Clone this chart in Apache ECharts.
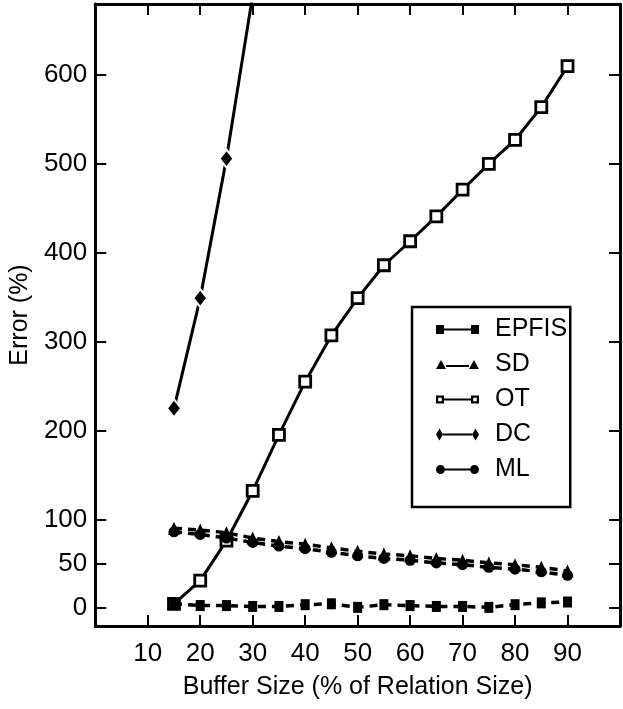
<!DOCTYPE html>
<html>
<head>
<meta charset="utf-8">
<script src="https://cdn.jsdelivr.net/npm/echarts@6/dist/echarts.min.js"></script>
<style>
html,body{margin:0;padding:0;background:#fff;}
#chart{width:623px;height:709px;}
</style>
</head>
<body>
<div id="chart"></div>
<script>
// ---- data ----
const bufferSizes = [15, 20, 25, 30, 35, 40, 45, 50, 55, 60, 65, 70, 75, 80, 85, 90];
const epfisErr = [5, 3, 3, 2, 2, 4, 5, 1, 4, 3, 2, 2, 1, 4, 6, 7];
const sdErr    = [90, 88, 85, 79, 75, 72, 68, 64, 61, 59, 56, 54, 51, 49, 46, 42];
const otErr    = [5, 31, 76, 132, 195, 255, 307, 349, 386, 413, 441, 471, 500, 527, 564, 610];
const dcX      = [15, 20, 25, 30];
const dcErr    = [225, 349, 506, 690];
const mlErr    = [86, 83, 79, 74, 70, 67, 63, 59, 56, 54, 51, 49, 46, 44, 41, 37];
const xTicks = [10, 20, 30, 40, 50, 60, 70, 80, 90];
const yTicks = [0, 50, 100, 200, 300, 400, 500, 600];
const seriesNames = ['EPFIS', 'SD', 'OT', 'DC', 'ML'];

const pairs = (xs, ys) => xs.map((x, i) => [x, ys[i]]);
const FONT = 'Liberation Sans';

// legend icons: marker — marker
const icons = {
  EPFIS: 'path://M0,1h8v9h-8Z M8,4.5h27v2h-27Z M35,1h8v9h-8Z',
  SD: 'path://M0,10L5,1L10,10Z M10,6h23v2h-23Z M33,10L38,1L43,10Z',
  OT: 'path://M0,1h8v8h-8Z M2.2,3.2v3.6h3.6v-3.6Z M8,4h27v2h-27Z M35,1h8v8h-8Z M37.2,3.2v3.6h3.6v-3.6Z',
  DC: 'path://M3.5,0L7,6L3.5,12L0,6Z M7,5h29v2h-29Z M39.5,0L43,6L39.5,12L36,6Z',
  ML: 'path://M0,6a4.5,4.5 0 1,0 9,0a4.5,4.5 0 1,0 -9,0Z M9,5h25v2h-25Z M34,6a4.5,4.5 0 1,0 9,0a4.5,4.5 0 1,0 -9,0Z'
};

const axisLineStyle = {color: '#000', width: 3};
const tickStyle = {color: '#000', width: 2};

const option = {
  animation: false,
  backgroundColor: '#fff',
  textStyle: {fontFamily: FONT, color: '#000'},
  grid: {left: 94, right: 3, top: 4, bottom: 83},
  legend: {
    orient: 'vertical',
    left: 412,
    top: 307,
    padding: [10, 3, 25, 24],
    itemGap: 10,
    itemWidth: 43,
    itemHeight: 12,
    borderColor: '#000',
    borderWidth: 2.5,
    backgroundColor: '#fff',
    textStyle: {fontFamily: FONT, fontSize: 25, color: '#000', padding: [0, 0, 0, 11]},
    data: seriesNames.map(n => ({name: n, icon: icons[n], itemStyle: {color: '#000', borderWidth: 0}}))
  },
  xAxis: [{
    type: 'value', min: 0, max: 100, position: 'bottom',
    name: 'Buffer Size (% of Relation Size)', nameLocation: 'middle', nameGap: 49,
    nameTextStyle: {fontFamily: FONT, fontSize: 25, color: '#000'},
    axisLine: {show: true, onZero: false, lineStyle: axisLineStyle},
    axisTick: {show: true, inside: true, length: 11, customValues: xTicks, lineStyle: tickStyle},
    axisLabel: {show: true, customValues: xTicks, margin: 15, fontFamily: FONT, fontSize: 26, color: '#000'},
    splitLine: {show: false}
  }, {
    type: 'value', min: 0, max: 100, position: 'top',
    axisLine: {show: true, onZero: false, lineStyle: axisLineStyle},
    axisTick: {show: true, inside: true, length: 11, customValues: xTicks, lineStyle: tickStyle},
    axisLabel: {show: false},
    splitLine: {show: false}
  }],
  yAxis: [{
    type: 'value', min: -20, max: 680, position: 'left',
    name: 'Error (%)', nameLocation: 'middle', nameGap: 60, nameRotate: 90,
    nameTextStyle: {fontFamily: FONT, fontSize: 25, color: '#000'},
    axisLine: {show: true, onZero: false, lineStyle: axisLineStyle},
    axisTick: {show: true, inside: true, length: 11, customValues: yTicks, lineStyle: tickStyle},
    axisLabel: {show: true, customValues: yTicks, margin: 8, fontFamily: FONT, fontSize: 26, color: '#000'},
    splitLine: {show: false}
  }, {
    type: 'value', min: -20, max: 680, position: 'right',
    axisLine: {show: true, onZero: false, lineStyle: axisLineStyle},
    axisTick: {show: true, inside: true, length: 11, customValues: yTicks, lineStyle: tickStyle},
    axisLabel: {show: false},
    splitLine: {show: false}
  }],
  series: [{
    name: 'OT', type: 'line', data: pairs(bufferSizes, otErr), z: 2,
    symbol: 'rect', symbolSize: 11, showAllSymbol: true,
    lineStyle: {color: '#000', width: 3, type: 'solid'},
    itemStyle: {color: '#fff', borderColor: '#000', borderWidth: 2.8},
    emphasis: {disabled: true}
  }, {
    name: 'DC', type: 'line', data: pairs(dcX, dcErr), z: 3, clip: true,
    symbol: 'diamond', symbolSize: [14, 18],
    lineStyle: {color: '#000', width: 3, type: 'solid'},
    itemStyle: {color: '#000', borderColor: '#fff', borderWidth: 2},
    emphasis: {disabled: true}
  }, {
    name: 'SD', type: 'line', data: pairs(bufferSizes, sdErr), z: 4,
    symbol: 'triangle', symbolSize: [12, 13],
    lineStyle: {color: '#000', width: 3.5, type: [8, 6]},
    itemStyle: {color: '#000'},
    emphasis: {disabled: true}
  }, {
    name: 'ML', type: 'line', data: pairs(bufferSizes, mlErr), z: 4,
    symbol: 'circle', symbolSize: 11,
    lineStyle: {color: '#000', width: 3.5, type: [8, 6]},
    itemStyle: {color: '#000'},
    emphasis: {disabled: true}
  }, {
    name: 'EPFIS', type: 'line', data: pairs(bufferSizes, epfisErr), z: 5,
    symbol: 'rect', symbolSize: [9, 11],
    lineStyle: {color: '#000', width: 3.5, type: [8, 6]},
    itemStyle: {color: '#000'},
    emphasis: {disabled: true}
  }]
};

const chart = echarts.init(document.getElementById('chart'), null, {renderer: 'canvas'});
chart.setOption(option);
</script>
</body>
</html>
